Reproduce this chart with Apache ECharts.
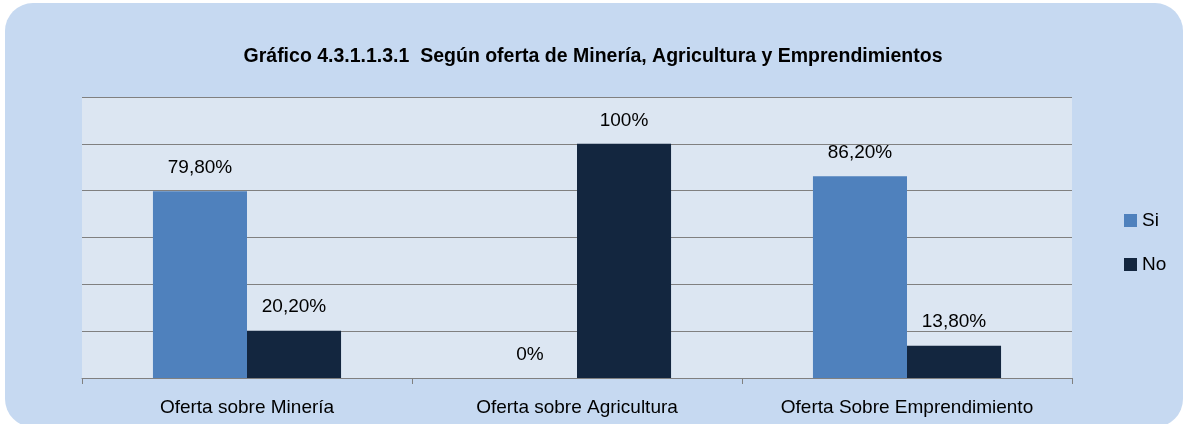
<!DOCTYPE html>
<html lang="es">

<head>
  <meta charset="UTF-8">
  <title>Gráfico 4.3.1.1.3.1</title>
  <style>
    * {
      margin: 0;
      padding: 0;
    }
    body {
      background-color: #ffffff;
    }
    #main {
      width: 1186px;
      height: 424px;
    }
  </style>
</head>

<body>
  <div id="main"></div>
  <script src="https://cdn.jsdelivr.net/npm/echarts@6/dist/echarts.min.js"></script>
  <script>
    // datos del gráfico
    var categorias = ['Oferta sobre Minería', 'Oferta sobre Agricultura', 'Oferta Sobre Emprendimiento'];
    var valoresSi = [79.8, 0, 86.2];
    var valoresNo = [20.2, 100, 13.8];
    var etiquetasSi = ['79,80%', '0%', '86,20%'];
    var etiquetasNo = ['20,20%', '100%', '13,80%'];

    var fuente = '"Liberation Sans", Arial, sans-serif';

    var myChart = echarts.init(document.getElementById('main'));

    var option = {
      animation: false,
      backgroundColor: '#ffffff',
      graphic: [{
        type: 'rect',
        z: -10,
        shape: { x: 5, y: 3, width: 1178, height: 424, r: 28 },
        style: { fill: '#c6d9f1' }
      }],
      title: {
        text: 'Gráfico 4.3.1.1.3.1  Según oferta de Minería, Agricultura y Emprendimientos',
        left: 'center',
        top: 42,
        textStyle: {
          fontFamily: fuente,
          fontSize: 19.5,
          fontWeight: 'bold',
          color: '#000000'
        }
      },
      legend: {
        orient: 'vertical',
        left: 1124,
        top: 211,
        padding: 0,
        itemWidth: 13,
        itemHeight: 13,
        itemGap: 25,
        icon: 'rect',
        textStyle: {
          fontFamily: fuente,
          fontSize: 19,
          color: '#000000'
        },
        data: ['Si', 'No']
      },
      grid: {
        left: 82,
        right: 114,
        top: 97,
        bottom: 46,
        show: true,
        backgroundColor: '#dce6f2',
        borderWidth: 0
      },
      xAxis: {
        type: 'category',
        data: categorias,
        axisLine: { lineStyle: { color: '#808080', width: 1 } },
        axisTick: { show: true, interval: 0, length: 6, lineStyle: { color: '#808080' } },
        axisLabel: {
          interval: 0,
          hideOverlap: false,
          margin: 20,
          fontFamily: fuente,
          fontSize: 19,
          color: '#000000'
        }
      },
      yAxis: {
        type: 'value',
        min: 0,
        max: 120,
        interval: 20,
        axisLabel: { show: false },
        axisLine: { show: false },
        axisTick: { show: false },
        splitLine: { lineStyle: { color: '#808080', width: 1 } }
      },
      series: [{
        name: 'Si',
        type: 'bar',
        data: valoresSi,
        barGap: '0%',
        barCategoryGap: '43%',
        itemStyle: { color: '#4f81bd' },
        label: {
          show: true,
          position: 'top',
          distance: 14,
          fontFamily: fuente,
          fontSize: 19,
          color: '#000000',
          formatter: function (p) { return etiquetasSi[p.dataIndex]; }
        }
      }, {
        name: 'No',
        type: 'bar',
        data: valoresNo,
        itemStyle: { color: '#13263f' },
        label: {
          show: true,
          position: 'top',
          distance: 14,
          fontFamily: fuente,
          fontSize: 19,
          color: '#000000',
          formatter: function (p) { return etiquetasNo[p.dataIndex]; }
        }
      }]
    };

    myChart.setOption(option);
  </script>

</body>

</html>
